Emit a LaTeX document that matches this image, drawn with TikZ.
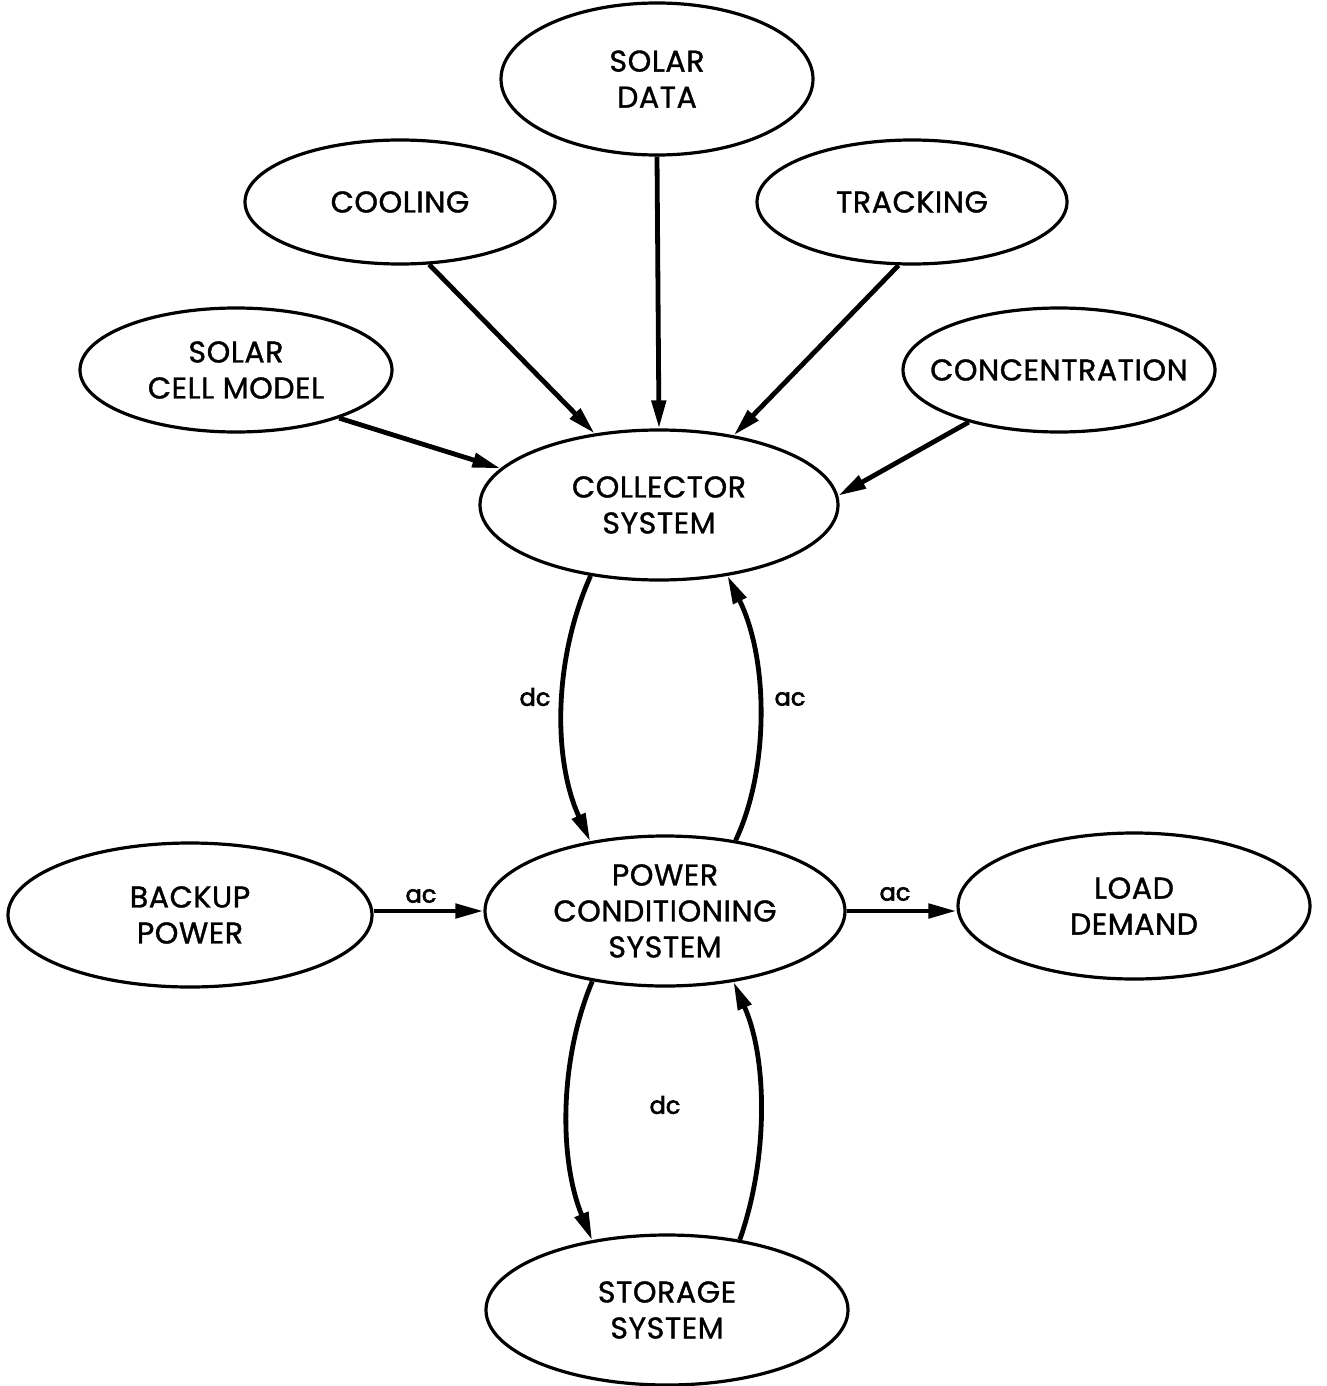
\documentclass[tikz,border=0pt]{standalone}
\usepackage{fontspec}
\newfontfamily\diag[FakeBold=1.2,LetterSpace=2]{Poppins}
\newfontfamily\diaglbl[FakeBold=2.5]{Poppins}
\usetikzlibrary{shapes.geometric,arrows.meta}
\begin{document}
\begin{tikzpicture}[x=0.5pt,y=-0.5pt,
  oval/.style={ellipse,draw,line width=1.6pt,inner sep=0pt,align=center,
    font=\diag\fontsize{15}{18}\selectfont},
  arr/.style={line width=2.4pt,-{Triangle[length=14pt,width=7pt]}},
  lbl/.style={font=\diaglbl\fontsize{12}{14}\selectfont}]
\useasboundingbox (0,0) rectangle (1327,1386);
\node[oval,minimum width=156pt,minimum height=76pt] (sd) at (657,79) {SOLAR\\DATA};
\node[oval,minimum width=155pt,minimum height=62pt] (cool) at (400,202) {COOLING};
\node[oval,minimum width=155pt,minimum height=62pt] (track) at (912,202) {TRACKING};
\node[oval,minimum width=156pt,minimum height=62pt] (scm) at (236,370) {SOLAR\\CELL MODEL};
\node[oval,minimum width=156pt,minimum height=62pt] (conc) at (1059,370) {\makebox[0pt]{CONCENTRATION}};
\node[oval,minimum width=179pt,minimum height=75pt] (cs) at (659,505) {COLLECTOR\\SYSTEM};
\node[oval,minimum width=180pt,minimum height=75pt] (pcs) at (665,911) {POWER\\CONDITIONING\\SYSTEM};
\node[oval,minimum width=182pt,minimum height=72pt] (bp) at (190,915) {BACKUP\\POWER};
\node[oval,minimum width=176pt,minimum height=73pt] (ld) at (1134,906) {LOAD\\DEMAND};
\node[oval,minimum width=181pt,minimum height=75pt] (ss) at (667,1310) {STORAGE\\SYSTEM};

\draw[arr] (sd.south) -- (cs.north);
\draw[arr] (cool.-65) -- (cs.132);
\draw[arr] (track.-102) -- (cs.43);
\draw[arr] (scm.-25) -- (cs.167);
\draw[arr] (conc.210) -- (cs.3);

\draw[arr] (cs.226) .. controls (553,660) and (553,760) .. (pcs.137);
\draw[arr] (pcs.45) .. controls (769,770) and (769,660) .. (cs.-46);
\draw[arr] (pcs.224) .. controls (559,1060) and (559,1160) .. (ss.137);
\draw[arr] (ss.44) .. controls (768,1160) and (768,1060) .. (pcs.-46);

\draw[arr] (bp.east |- pcs.west) -- (pcs.west);
\draw[arr] (pcs.east) -- (pcs.east -| ld.west);

\node[lbl] (l1) at (535,697) {dc};
\node[lbl] (l2) at (790,699) {ac};
\node[lbl] (l3) at (421,896) {ac};
\node[lbl] (l4) at (895,894) {ac};
\node[lbl] (l5) at (665,1105) {dc};
\end{tikzpicture}
\end{document}
